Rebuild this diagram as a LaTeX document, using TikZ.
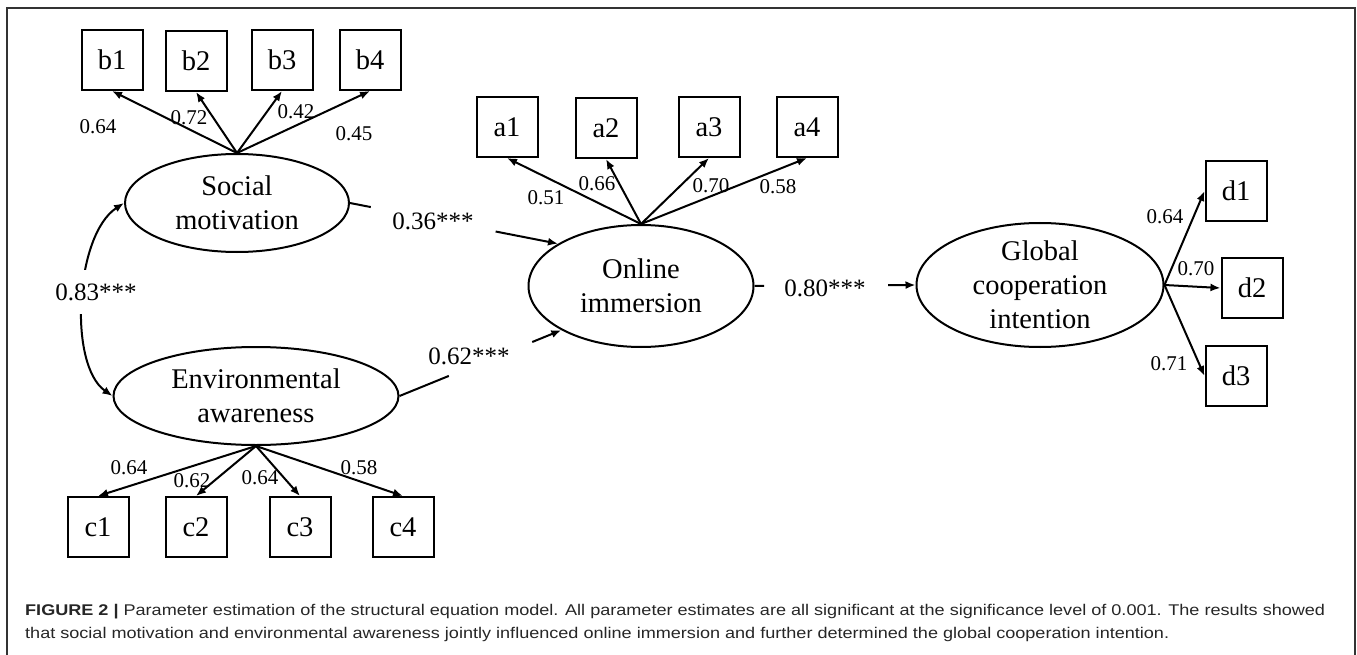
\documentclass[tikz,border=0pt]{standalone}
\usepackage{fontspec}
\setmainfont{Liberation Serif}
\newfontfamily\capfont{Liberation Sans}
\usetikzlibrary{arrows.meta,shapes.geometric,calc}
\newsavebox\fitbox
\newdimen\fitd
\newcommand\capone{\textbf{FIGURE 2 |} Parameter estimation of the structural equation model. All parameter estimates are all significant at the significance level of 0.001. The results showed}
\newcommand\captwo{that social motivation and environmental awareness jointly influenced online immersion and further determined the global cooperation intention.}
\begin{document}
\sbox\fitbox{\capfont\fontsize{15.5}{18}\selectfont\capone}%
\fitd=\wd\fitbox
\pgfmathsetmacro\fitf{1300/\the\fitd}%
\begin{tikzpicture}[x=1pt,y=-1pt,
  every node/.style={inner sep=0pt},
  ln/.style={line width=2pt},
  arr/.style={ln,-{Latex[length=10pt,width=8pt]}},
  obs/.style={draw,ln,rectangle,minimum width=61pt,minimum height=60pt,font=\fontsize{28.5}{30}\selectfont},
  lat/.style={draw,ln,ellipse},
  lt/.style={align=center,font=\fontsize{28.5}{34}\selectfont},
  ld/.style={font=\fontsize{21}{24}\selectfont},
  st/.style={font=\fontsize{25}{28}\selectfont},
  captxt/.style={anchor=west,font=\capfont\fontsize{15.5}{18}\selectfont,text=black!85},
]
\useasboundingbox (0,0) rectangle (1357,655);
\draw[black!80,line width=1.5pt] (7,655) -- (7,8) -- (1355,8) -- (1355,655);

% observed indicators
\node[obs] (b1) at (112,60) {b1};
\node[obs] (b2) at (196,61) {b2};
\node[obs] (b3) at (282,60) {b3};
\node[obs] (b4) at (370,60) {b4};
\node[obs] (a1) at (507,127) {a1};
\node[obs] (a2) at (606,128) {a2};
\node[obs] (a3) at (709,127) {a3};
\node[obs] (a4) at (807,127) {a4};
\node[obs] (d1) at (1236,191) {d1};
\node[obs] (d2) at (1252,288) {d2};
\node[obs] (d3) at (1236,376) {d3};
\node[obs] (c1) at (98,527) {c1};
\node[obs] (c2) at (196,527) {c2};
\node[obs] (c3) at (300,527) {c3};
\node[obs] (c4) at (403,527) {c4};

% latent variables
\node[lat,minimum width=224pt,minimum height=98pt,label={[lt]center:Social\\motivation}] (SM) at (237,203) {};
\node[lat,minimum width=225pt,minimum height=122pt,label={[lt]center:Online\\immersion}] (OI) at (641,286) {};
\node[lat,minimum width=247pt,minimum height=124pt,label={[lt]center:Global\\cooperation\\intention}] (GCI) at (1040,285) {};
\node[lat,minimum width=285pt,minimum height=98pt,label={[lt]center:Environmental\\awareness}] (EA) at (256,396) {};

% loadings
\foreach \t in {b1,b2,b3,b4} \draw[arr] (SM.north) -- (\t.south);
\foreach \t in {a1,a2,a3,a4} \draw[arr] (OI.north) -- (\t.south);
\foreach \t in {c1,c2,c3,c4} \draw[arr] (EA.south) -- (\t.north);
\foreach \t in {d1,d2,d3} \draw[arr] (GCI.east) -- (\t.west);

\node[ld] (lb1) at (98,127) {0.64};
\node[ld] (lb2) at (189,118) {0.72};
\node[ld] (lb3) at (296,112) {0.42};
\node[ld] (lb4) at (354,134) {0.45};
\node[ld] (la1) at (546,198) {0.51};
\node[ld] (la2) at (597,184) {0.66};
\node[ld] (la3) at (711,186) {0.70};
\node[ld] (la4) at (778,187) {0.58};
\node[ld] (ld1) at (1165,217) {0.64};
\node[ld] (ld2) at (1196,269) {0.70};
\node[ld] (ld3) at (1169,364) {0.71};
\node[ld] (lc1) at (129,468) {0.64};
\node[ld] (lc2) at (192,481) {0.62};
\node[ld] (lc3) at (260,478) {0.64};
\node[ld] (lc4) at (359,468) {0.58};

% structural paths
\path (SM.east) -- coordinate[pos=0.10] (s1) coordinate[pos=0.70] (s2) (OI.153);
\draw[ln] (SM.east) -- (s1);
\draw[arr] (s2) -- (OI.153);
\node[st] (p1) at (433,221) {0.36***};

\path (EA.east) -- coordinate[pos=0.305] (e1) coordinate[pos=0.82] (e2) (OI.209);
\draw[ln] (EA.east) -- (e1);
\draw[arr] (e2) -- (OI.209);
\node[st] (p2) at (469,356) {0.62***};

\path (OI.east) -- coordinate[pos=0.06] (o1) coordinate[pos=0.83] (o2) (GCI.west);
\draw[ln] (OI.east) -- (o1);
\draw[arr] (o2) -- (GCI.west);
\node[st] (p3) at (825,288) {0.80***};

% covariance
\draw[ln,{Latex[length=10pt,width=8pt]}-{Latex[length=10pt,width=8pt]}] (SM.west) .. controls (75,235) and (68,365) .. (EA.west);
\node[st,fill=white,minimum height=44pt,inner xsep=2pt] (p4) at (96,292) {0.83***};

% caption
\node[captxt] (cap1) at (25,612) {\scalebox{\fitf}[1]{\capone}};
\node[captxt] (cap2) at (25,634) {\scalebox{\fitf}[1]{\captwo}};
\end{tikzpicture}
\end{document}
